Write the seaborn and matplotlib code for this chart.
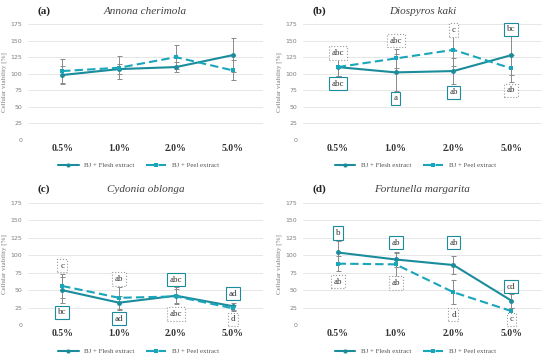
import numpy as np
import pandas as pd
import matplotlib
matplotlib.use('Agg')
import matplotlib.pyplot as plt
import seaborn as sns
from matplotlib.lines import Line2D

# Data
doses = ['0.5%', '1.0%', '2.0%', '5.0%']
panels = ['(a)', '(b)', '(c)', '(d)']
species = ['Annona cherimola', 'Diospyros kaki', 'Cydonia oblonga', 'Fortunella margarita']

flesh_a = [98, 107, 110, 128]
flesh_a_err = [13, 8, 7, 26]
peel_a = [104, 109, 125, 105]
peel_a_err = [18, 17, 18, 15]

flesh_b = [110, 102, 104, 128]
flesh_b_err = [13, 28, 20, 30]
peel_b = [110, 123, 136, 108]
peel_b_err = [13, 14, 25, 20]

flesh_c = [50, 32, 42, 27]
flesh_c_err = [19, 10, 12, 5]
peel_c = [56, 39, 41, 24]
peel_c_err = [17, 16, 10, 4]

flesh_d = [104, 94, 86, 35]
flesh_d_err = [17, 11, 13, 10]
peel_d = [88, 87, 47, 20]
peel_d_err = [11, 16, 17, 5]

# letters (text, y position) for flesh / peel
flesh_lab_b = [('abc', 85), ('a', 63), ('ab', 72), ('bc', 167)]
peel_lab_b = [('abc', 131), ('abc', 150), ('c', 166), ('ab', 75)]
flesh_lab_c = [('bc', 18), ('ad', 9), ('abc', 65), ('ad', 45)]
peel_lab_c = [('c', 85), ('ab', 66), ('abc', 16), ('d', 8)]
flesh_lab_d = [('b', 132), ('ab', 118), ('ab', 118), ('cd', 55)]
peel_lab_d = [('ab', 62), ('ab', 60), ('d', 15), ('c', 8)]

flesh_vals = [flesh_a, flesh_b, flesh_c, flesh_d]
flesh_errs = [flesh_a_err, flesh_b_err, flesh_c_err, flesh_d_err]
peel_vals = [peel_a, peel_b, peel_c, peel_d]
peel_errs = [peel_a_err, peel_b_err, peel_c_err, peel_d_err]
flesh_labs = [None, flesh_lab_b, flesh_lab_c, flesh_lab_d]
peel_labs = [None, peel_lab_b, peel_lab_c, peel_lab_d]

flesh_col = '#1b8c9c'
peel_col = '#1aa6ba'
serif = ['Liberation Serif', 'DejaVu Serif']

sns.set_style('white')
fig = plt.figure(figsize=(5.5, 3.6), dpi=100)

# axes positions in pixels: left, right, top(175), bottom(0)
boxes = [(28, 263, 24, 140), (303, 542, 24, 140),
         (28, 263, 203, 325), (303, 542, 203, 325)]

for i in range(4):
    l, r, t, b = boxes[i]
    ax = fig.add_axes([l / 550, 1 - b / 360, (r - l) / 550, (b - t) / 360])
    x = np.arange(4)

    df = pd.DataFrame({
        'dose': np.concatenate([x, x]),
        'value': flesh_vals[i] + peel_vals[i],
        'series': ['BJ + Flesh extract'] * 4 + ['BJ + Peel extract'] * 4,
    })
    ax.errorbar(x, flesh_vals[i], yerr=flesh_errs[i], fmt='none', ecolor='#8a8a8a',
                elinewidth=0.7, capsize=1.8, capthick=0.7, zorder=2)
    ax.errorbar(x, peel_vals[i], yerr=peel_errs[i], fmt='none', ecolor='#8a8a8a',
                elinewidth=0.7, capsize=1.8, capthick=0.7, zorder=2)
    sns.lineplot(data=df, x='dose', y='value', hue='series', style='series',
                 palette=[flesh_col, peel_col], dashes=[(1, 0), (4, 2)],
                 markers=['o', 's'], markersize=3.5, markeredgewidth=0,
                 linewidth=1.5, ax=ax, legend=False, zorder=3)

    if flesh_labs[i]:
        for j, (txt, yy) in enumerate(flesh_labs[i]):
            ax.text(j, yy, txt, ha='center', va='center', fontsize=6.5, family=serif,
                    color='#333333', zorder=5,
                    bbox=dict(boxstyle='square,pad=0.3', fc='white', ec=flesh_col, lw=0.8))
        for j, (txt, yy) in enumerate(peel_labs[i]):
            ax.text(j, yy, txt, ha='center', va='center', fontsize=6.5, family=serif,
                    color='#333333', zorder=5,
                    bbox=dict(boxstyle='square,pad=0.3', fc='white', ec='#9a9a9a', lw=0.8, ls=':'))

    ax.set_xlim(-0.6, 3.53)
    ax.set_ylim(0, 175)
    ax.set_yticks(range(0, 176, 25))
    ax.set_xticks(x)
    ax.set_xticklabels(doses, fontsize=7, fontweight='bold', family=serif, color='#333333')
    ax.tick_params(axis='y', labelsize=4.5, labelcolor='#7f7f7f', length=0, pad=4)
    ax.tick_params(axis='x', length=0, pad=3)
    ax.yaxis.grid(True, color='#e3e3e3', lw=0.6)
    ax.set_axisbelow(True)
    for s in ax.spines.values():
        s.set_visible(False)
    ax.set_xlabel('')
    ax.set_ylabel('Cellular viability [%]', fontsize=5, color='#7f7f7f', family=serif, labelpad=3)

    ax.text(0.04, 1.07, panels[i], transform=ax.transAxes, fontsize=8, fontweight='bold',
            family=serif, color='#222222', va='bottom')
    ax.text(0.5, 1.07, species[i], transform=ax.transAxes, fontsize=8, style='italic',
            family=serif, color='#404040', ha='center', va='bottom')

    handles = [Line2D([], [], color=flesh_col, lw=1.5, marker='o', ms=3, mew=0),
               Line2D([], [], color=peel_col, lw=1.5, ls=(0, (4, 2)), marker='s', ms=3, mew=0)]
    leg = ax.legend(handles, ['BJ + Flesh extract', 'BJ + Peel extract'], loc='upper center',
                    bbox_to_anchor=(0.47, -0.14), ncol=2, frameon=False,
                    prop={'family': serif, 'size': 5}, handlelength=3, columnspacing=1.6)
    for t in leg.get_texts():
        t.set_color('#555555')

fig.savefig('out.png', dpi=100, facecolor='white')
